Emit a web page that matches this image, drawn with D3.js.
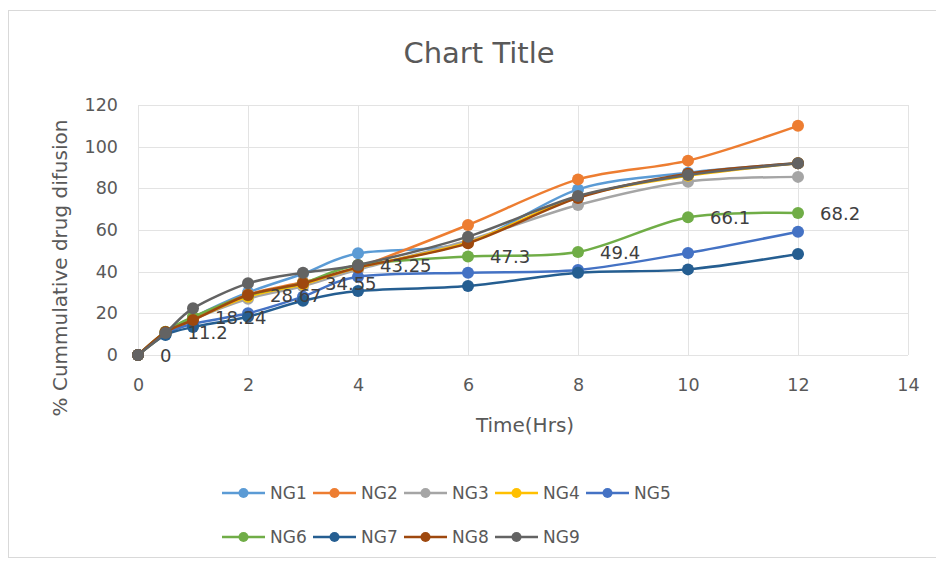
<!DOCTYPE html>
<html>
<head>
<meta charset="utf-8">
<script src="https://cdn.jsdelivr.net/npm/d3@7"></script>
<style>
  html, body { margin: 0; padding: 0; background: #fff; }
  svg { display: block; }
</style>
</head>
<body>
<svg id="chart" width="936" height="566"></svg>
<script>
// Sampling times (hours)
const hours = [0, 0.5, 1, 2, 3, 4, 6, 8, 10, 12];

// % cumulative drug diffusion for each formulation
const NG1 = [0, 10, 18, 30, 39, 48.8, 54, 79.5, 87.5, 92];
const NG2 = [0, 11, 18, 29, 35, 42, 62.4, 84.3, 93.3, 110];
const NG3 = [0, 10, 17, 27, 33, 41, 55, 72, 83.2, 85.5];
const NG4 = [0, 10, 17, 28, 34, 42, 54, 76, 86, 92];
const NG5 = [0, 10, 15, 20, 28, 37.6, 39.5, 40.8, 49, 59.2];
const NG6 = [0, 11.2, 18.24, 28.67, 34.55, 43.25, 47.3, 49.4, 66.1, 68.2];
const NG7 = [0, 9.6, 13.4, 18.4, 26, 30.7, 33.1, 39.5, 41.1, 48.5];
const NG8 = [0, 11, 16.8, 28.8, 34.4, 42, 53.6, 75.4, 87, 92];
const NG9 = [0, 10.6, 22.4, 34.4, 39.5, 43.2, 56.8, 76.3, 86.4, 92];

const seriesNames = ["NG1", "NG2", "NG3", "NG4", "NG5", "NG6", "NG7", "NG8", "NG9"];
const seriesValues = [NG1, NG2, NG3, NG4, NG5, NG6, NG7, NG8, NG9];
const seriesColors = ["#5B9BD5", "#ED7D31", "#A5A5A5", "#FFC000", "#4472C4",
                      "#70AD47", "#255E91", "#9E480E", "#636363"];
const labelledSeries = "NG6";

const xTicks = [0, 2, 4, 6, 8, 10, 12, 14];
const yTicks = [0, 20, 40, 60, 80, 100, 120];

const svg = d3.select("#chart");
const textColor = "#595959";
const font = "'DejaVu Sans', 'Noto Sans', sans-serif";

// chart frame
svg.append("rect")
  .attr("x", 8.5).attr("y", 10.5)
  .attr("width", 960).attr("height", 547)
  .attr("fill", "#fff").attr("stroke", "#d9d9d9").attr("stroke-width", 1);

const x = d3.scaleLinear().domain([0, 14]).range([138, 908]);
const y = d3.scaleLinear().domain([0, 120]).range([355, 105]);

// gridlines
const grid = svg.append("g");
grid.selectAll("line.h").data(yTicks).join("line")
  .attr("x1", x(0)).attr("x2", x(14))
  .attr("y1", d => Math.round(y(d)) + 0.5).attr("y2", d => Math.round(y(d)) + 0.5)
  .attr("stroke", "#e3e3e3").attr("stroke-width", 1);
grid.selectAll("line.v").data(xTicks).join("line")
  .attr("y1", y(0)).attr("y2", y(120))
  .attr("x1", d => Math.round(x(d)) + 0.5).attr("x2", d => Math.round(x(d)) + 0.5)
  .attr("stroke", "#e3e3e3").attr("stroke-width", 1);

// axes (labels only)
const xAxis = svg.append("g")
  .attr("transform", `translate(0, ${y(0) + 12})`)
  .call(d3.axisBottom(x).tickValues(xTicks).tickSize(0).tickPadding(12));
const yAxis = svg.append("g")
  .attr("transform", `translate(${x(0) - 12}, 0)`)
  .call(d3.axisLeft(y).tickValues(yTicks).tickSize(0).tickPadding(8));
[xAxis, yAxis].forEach(a => {
  a.select(".domain").remove();
  a.selectAll("text").attr("fill", textColor)
    .style("font-family", font).style("font-size", "17.5px");
});

// title and axis titles
svg.append("text").attr("x", 479).attr("y", 63)
  .attr("text-anchor", "middle").attr("fill", textColor)
  .style("font-family", font).style("font-size", "29px")
  .text("Chart Title");
svg.append("text").attr("x", 525).attr("y", 432)
  .attr("text-anchor", "middle").attr("fill", textColor)
  .style("font-family", font).style("font-size", "20px")
  .text("Time(Hrs)");
svg.append("text")
  .attr("transform", `translate(67, 268) rotate(-90)`)
  .attr("text-anchor", "middle").attr("fill", textColor)
  .style("font-family", font).style("font-size", "20px")
  .text("% Cummulative drug difusion");

// smoothed series lines with markers
const line = d3.line()
  .x((d, i) => x(hours[i]))
  .y(d => y(d))
  .curve(d3.curveCardinal.tension(0.1));

const plot = svg.append("g");
seriesNames.forEach((name, s) => {
  const g = plot.append("g");
  g.append("path")
    .attr("d", line(seriesValues[s]))
    .attr("fill", "none")
    .attr("stroke", seriesColors[s])
    .attr("stroke-width", 2.5);
  g.selectAll("circle").data(seriesValues[s]).join("circle")
    .attr("cx", (d, i) => x(hours[i]))
    .attr("cy", d => y(d))
    .attr("r", 6)
    .attr("fill", seriesColors[s]);
});

// value labels for NG6
const labelVals = seriesValues[seriesNames.indexOf(labelledSeries)];
svg.append("g").selectAll("text").data(labelVals).join("text")
  .attr("x", (d, i) => x(hours[i]) + 22)
  .attr("y", d => y(d) + 2)
  .attr("dominant-baseline", "middle")
  .attr("fill", "#404040")
  .style("font-family", font).style("font-size", "18px")
  .text(d => d);

// legend in two rows
const legend = svg.append("g");
const perRow = 5;
seriesNames.forEach((name, s) => {
  const row = Math.floor(s / perRow), col = s % perRow;
  const lx = 222 + col * 91, ly = 493 + row * 44;
  const item = legend.append("g").attr("transform", `translate(${lx}, ${ly})`);
  item.append("line").attr("x1", 0).attr("x2", 43)
    .attr("y1", 0).attr("y2", 0)
    .attr("stroke", seriesColors[s]).attr("stroke-width", 2.5);
  item.append("circle").attr("cx", 21.5).attr("cy", 0).attr("r", 5)
    .attr("fill", seriesColors[s]);
  item.append("text").attr("x", 48).attr("y", 1)
    .attr("dominant-baseline", "middle").attr("fill", textColor)
    .style("font-family", font).style("font-size", "17px")
    .text(name);
});
</script>
</body>
</html>
